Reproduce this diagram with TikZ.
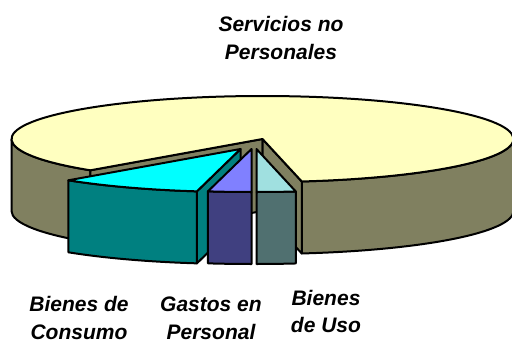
\documentclass[tikz,border=0pt]{standalone}
\usepackage{fontspec}
\setmainfont{Liberation Sans}
\definecolor{topmain}{HTML}{FFFFC0}
\definecolor{sidemain}{HTML}{808060}
\definecolor{topcons}{HTML}{00FFFF}
\definecolor{sidecons}{HTML}{008080}
\definecolor{toppers}{HTML}{8080FF}
\definecolor{sidepers}{HTML}{404080}
\definecolor{topuso}{HTML}{A0E0E0}
\definecolor{sideuso}{HTML}{507070}
\begin{document}
\begin{tikzpicture}[x=1pt,y=-1pt,
  face/.style={draw=black,line width=2pt,line join=round},
  lbl/.style={font=\fontsize{21}{27.5}\selectfont\bfseries\itshape,align=center,anchor=north,inner sep=0pt}]
\useasboundingbox (0,0) rectangle (512,343);
\clip (0,0) rectangle (512,343);
\def\cx{262.5}\def\cy{139}\def\rx{251}\def\ry{43}\def\dep{72}
\tikzset{ell/.style={x radius=\rx,y radius=\ry}}
% main slice: Servicios no Personales (t from 133.3 to 441)
\coordinate (C) at (\cx,\cy);
\coordinate (CB) at (\cx,\cy+\dep);
\coordinate (PL) at ({\cx+\rx*cos(133.3)},{\cy+\ry*sin(133.3)});
\coordinate (PR) at ({\cx+\rx*cos(81)},{\cy+\ry*sin(81)});
\coordinate (PE) at ({\cx+\rx},{\cy});
% outer walls
\filldraw[face,fill=sidemain] (PL) arc[ell,start angle=133.3,end angle=180] -- ++(0,\dep)
  arc[ell,start angle=180,end angle=133.3] -- cycle;
\filldraw[face,fill=sidemain] (PE) arc[ell,start angle=0,end angle=81] -- ++(0,\dep)
  arc[ell,start angle=81,end angle=0] -- cycle;
% radial walls
\filldraw[face,fill=sidemain] (C) -- (PL) -- ++(0,\dep) -- (CB) -- cycle;
\filldraw[face,fill=sidemain] (C) -- (PR) -- ++(0,\dep) -- (CB) -- cycle;
% top face
\filldraw[face,fill=topmain] (C) -- (PL) arc[ell,start angle=133.3,end angle=441] -- cycle;
% Bienes de Consumo slice (t 100..133.3), offset (-22,10)
\begin{scope}[shift={(-22,10)}]
\coordinate (CC) at (\cx,\cy);
\coordinate (CCB) at (\cx,\cy+\dep);
\coordinate (CA) at ({\cx+\rx*cos(100)},{\cy+\ry*sin(100)});
\filldraw[face,fill=sidecons] (CC) -- (CA) -- ++(0,\dep) -- (CCB) -- cycle;
\filldraw[face,fill=sidecons] (CA) arc[ell,start angle=100,end angle=133.3] -- ++(0,\dep)
  arc[ell,start angle=133.3,end angle=100] -- cycle;
\filldraw[face,fill=topcons] (CC) -- (CA) arc[ell,start angle=100,end angle=133.3] -- cycle;
\end{scope}
% Gastos en Personal slice (t 90..100), offset (-11,10)
\begin{scope}[shift={(-11,10)}]
\coordinate (GC) at (\cx,\cy);
\coordinate (GA) at ({\cx},{\cy+\ry});
\filldraw[face,fill=sidepers] (GA) arc[ell,start angle=90,end angle=100] -- ++(0,\dep)
  arc[ell,start angle=100,end angle=90] -- cycle;
\filldraw[face,fill=toppers] (GC) -- (GA) arc[ell,start angle=90,end angle=100] -- cycle;
\end{scope}
% Bienes de Uso slice (t 81..90), offset (-6,10)
\begin{scope}[shift={(-6,10)}]
\coordinate (UC) at (\cx,\cy);
\coordinate (UA) at ({\cx+\rx*cos(81)},{\cy+\ry*sin(81)});
\filldraw[face,fill=sideuso] (UA) arc[ell,start angle=81,end angle=90] -- ++(0,\dep)
  arc[ell,start angle=90,end angle=81] -- cycle;
\filldraw[face,fill=topuso] (UC) -- (UA) arc[ell,start angle=81,end angle=90] -- cycle;
\end{scope}
% labels
\node[lbl] (serv) at (281,16.5) {Servicios no\\Personales};
\node[lbl] (cons) at (79,296.5) {Bienes de\\Consumo};
\node[lbl] (pers) at (211,297) {Gastos en\\Personal};
\node[lbl] (uso) at (326,290) {Bienes\\de Uso};
\end{tikzpicture}
\end{document}
